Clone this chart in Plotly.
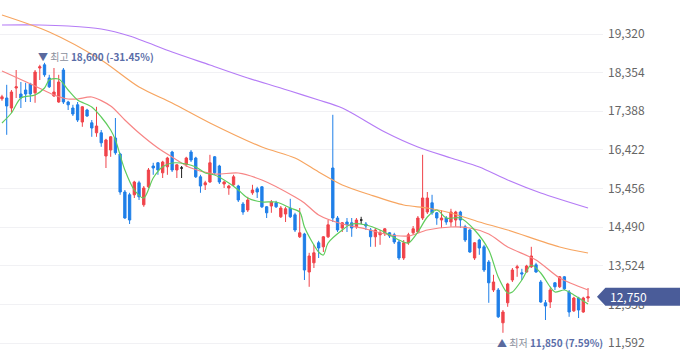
import plotly.graph_objects as go

# ---------------- data ----------------
opens = [17700, 17720, 17470, 17970, 17820, 17920, 18070, 17850, 18470, 18550,
         18220, 17770, 17620, 18420, 17620, 17470, 17550, 17120, 17420, 17100,
         16850, 16850, 16270, 16420, 16720, 16320, 15370, 15300, 15300, 15600,
         15050, 15500, 16020, 16100, 15850, 16000, 16370, 15920, 15970, 16050,
         16370, 16220, 15750, 15550, 15620, 16250, 16020, 15570, 15470, 15550,
         15520, 15070, 14920, 15350, 15450, 15500, 15000, 15020, 15100, 14750,
         14820, 14970, 14800, 14250, 14320, 13370, 13600, 14100, 14000, 14250,
         15970, 14720, 14470, 14620, 14600, 14500, 14670, 14570, 14420, 14250,
         14300, 14350, 14350, 14300, 14120, 13720, 14100, 14350, 14370, 14720,
         14870, 15100, 14850, 14670, 14720, 14620, 14670, 14870, 14500, 14420,
         13720, 14170, 14000, 13620, 12920, 12920, 12100, 12600, 13170, 13470,
         13350, 13370, 13500, 13550, 13120, 12600, 12620, 13100, 13000, 13250,
         12870, 12400, 12720, 12370, 12720]
highs = [17800, 18050, 17920, 18420, 18120, 18100, 18100, 18420, 18550, 18600,
         18300, 18470, 18300, 18470, 17650, 17550, 17620, 17520, 17450, 17170,
         17500, 16920, 16700, 16770, 17220, 16350, 15420, 15350, 15650, 15650,
         15520, 15970, 16100, 16120, 16150, 16250, 16400, 16070, 16020, 16250,
         16420, 16250, 15800, 15650, 16300, 16270, 16050, 15650, 15550, 15800,
         15550, 15120, 15250, 15550, 15500, 15520, 15020, 15170, 15150, 15020,
         15000, 15200, 14850, 14970, 14350, 13850, 14050, 14150, 14270, 14670,
         17300, 14770, 14620, 14720, 14720, 14720, 14750, 14620, 14470, 14470,
         14420, 14470, 14370, 14350, 14170, 14170, 14350, 14520, 14770, 16300,
         15370, 15300, 14870, 14920, 14770, 14950, 14900, 14900, 14550, 14450,
         14120, 14200, 14050, 13670, 13300, 12970, 12420, 13100, 13470, 13550,
         13450, 13550, 14000, 13600, 13170, 12670, 12970, 13120, 13270, 13270,
         12920, 12750, 12750, 12750, 12970]
lows = [17650, 16800, 17350, 17720, 17470, 17620, 17620, 17600, 18170, 18250,
        17970, 17750, 17600, 17570, 17420, 17270, 17120, 17000, 17250, 16750,
        16750, 16500, 15970, 16250, 16300, 15300, 14700, 14570, 15220, 15170,
        15000, 15470, 15800, 15800, 15720, 15800, 15870, 15720, 15720, 16000,
        16120, 15720, 15350, 15420, 15600, 15800, 15570, 15470, 15300, 15520,
        15120, 14800, 14870, 15300, 15220, 14970, 14720, 14850, 14970, 14720,
        14620, 14720, 14370, 14220, 13170, 13000, 13470, 13720, 13870, 14220,
        14620, 14370, 14370, 14370, 14250, 14450, 14570, 14420, 14000, 14000,
        14050, 14270, 14220, 14070, 13670, 13670, 14050, 14300, 14350, 14670,
        14820, 14800, 14550, 14470, 14550, 14500, 14500, 14470, 14120, 13850,
        13670, 13800, 13370, 12600, 12870, 12220, 11850, 12500, 13120, 13250,
        13170, 13350, 13470, 13350, 12600, 12170, 12470, 12920, 12970, 12920,
        12250, 12370, 12220, 12350, 12620]
closes = [17750, 17520, 17870, 18000, 17720, 17820, 17820, 18370, 18500, 18300,
          18000, 17870, 18120, 17620, 17550, 17320, 17170, 17500, 17270, 16970,
          17020, 16600, 16670, 16750, 16350, 15370, 14720, 14670, 15620, 15250,
          15470, 15920, 15970, 15920, 16120, 16220, 15920, 16050, 15970, 16220,
          16170, 15750, 15520, 15600, 16100, 15850, 15620, 15620, 15520, 15750,
          15170, 14870, 15170, 15420, 15370, 15000, 14850, 15120, 15000, 14970,
          14950, 14750, 14420, 14350, 13420, 13770, 13850, 13970, 14250, 14550,
          14720, 14420, 14600, 14550, 14470, 14670, 14670, 14520, 14250, 14420,
          14350, 14450, 14270, 14120, 13720, 14100, 14300, 14450, 14720, 15220,
          15220, 14850, 14720, 14720, 14620, 14870, 14870, 14670, 14170, 13870,
          14100, 13970, 13420, 13100, 13120, 12250, 12370, 13070, 13420, 13500,
          13320, 13520, 13770, 13370, 12620, 12520, 12920, 13000, 13250, 12950,
          12370, 12720, 12420, 12720, 12750]
x_idx = list(range(len(closes)))

# moving averages (index, value)
ma5_idx = [0, 2, 4, 7, 9, 10, 12, 14, 16, 19, 21, 23, 24, 26, 28, 30, 32, 34, 36, 39,
           41, 43, 45, 48, 50, 52, 55, 58, 61, 63, 64, 66, 67, 68, 69, 72, 74, 77, 80,
           82, 84, 86, 88, 90, 92, 94, 97, 100, 103, 105, 107, 108, 110, 112, 114,
           116, 117, 119, 121, 124]
ma5_val = [17095, 17345, 17720, 17795, 17970, 18170, 18195, 17920, 17670, 17495,
           17245, 16920, 16670, 15920, 15420, 15220, 15720, 16000, 16095, 16070,
           15995, 15845, 15795, 15595, 15420, 15220, 15120, 15120, 14970, 14870,
           14495, 14045, 13870, 13795, 14095, 14420, 14570, 14545, 14420, 14295,
           14170, 14095, 14370, 14745, 14920, 14720, 14720, 14420, 13920, 13245,
           12845, 12870, 13170, 13545, 13345, 12995, 12870, 12920, 12795, 12570]
ma20_idx = [0, 7, 11, 14, 16, 19, 23, 26, 29, 33, 36, 40, 45, 50, 55, 62, 64, 67, 72,
            77, 81, 86, 90, 95, 99, 103, 107, 113, 118, 124]
ma20_val = [18395, 18020, 17795, 17695, 17695, 17745, 17520, 17170, 16845, 16470,
            16245, 15970, 15820, 15845, 15670, 15245, 15095, 14795, 14570, 14445,
            14320, 14270, 14420, 14495, 14470, 14320, 13995, 13670, 13220, 12920]
ma60_idx = [0, 10, 21, 29, 36, 44, 55, 62, 67, 72, 78, 85, 90, 95, 101, 107, 118, 124]
ma60_val = [19795, 19370, 18670, 17995, 17595, 17095, 16495, 16220, 15870, 15545,
            15295, 15045, 14970, 14845, 14620, 14420, 13995, 13845]
ma120_idx = [0, 8, 14, 21, 27, 36, 44, 52, 61, 67, 72, 81, 88, 95, 101, 107, 114, 124]
ma120_val = [19545, 19545, 19520, 19445, 19270, 18870, 18545, 18220, 17895, 17670,
             17470, 16870, 16495, 16220, 15995, 15670, 15345, 14970]

y_ticks = [11592, 12558, 13524, 14490, 15456, 16422, 17388, 18354, 19320]
high_idx, high_val, high_pct = 9, 18600, "-31.45%"
low_idx, low_val, low_pct = 106, 11850, "7.59%"

# ---------------- styling ----------------
UP = "#f0434a"
DOWN = "#1f7fe8"
FLAT = "#222222"
FONT = "Noto Sans CJK KR, Noto Sans, sans-serif"

fig = go.Figure()

groups = [
    (UP, [i for i in x_idx if closes[i] > opens[i]]),
    (DOWN, [i for i in x_idx if closes[i] < opens[i]]),
    (FLAT, [i for i in x_idx if closes[i] == opens[i]]),
]
for color, x_sel in groups:
    fig.add_trace(go.Candlestick(
        x=x_sel,
        open=[opens[i] for i in x_sel],
        high=[highs[i] for i in x_sel],
        low=[lows[i] for i in x_sel],
        close=[closes[i] for i in x_sel],
        increasing=dict(line=dict(color=color, width=1), fillcolor=color),
        decreasing=dict(line=dict(color=color, width=1), fillcolor=color),
        whiskerwidth=0,
        showlegend=False,
        hoverinfo="skip",
    ))

for xs, ys, col in [
    (ma120_idx, ma120_val, "#b57cf6"),
    (ma60_idx, ma60_val, "#f7a560"),
    (ma20_idx, ma20_val, "#f78585"),
    (ma5_idx, ma5_val, "#5fcc5c"),
]:
    fig.add_trace(go.Scatter(
        x=xs, y=ys, mode="lines",
        line=dict(color=col, width=1.2, shape="spline", smoothing=0.8),
        showlegend=False, hoverinfo="skip",
    ))

fmt = lambda v: f"{v:,}"

fig.add_annotation(
    x=high_idx, y=high_val, xref="x", yref="y",
    text=(f"<span style='color:#5a6a9e'>▼</span> <span style='color:#8a8f9c'>최고</span> "
          f"<b><span style='color:#5a6da8'>{fmt(high_val)} ({high_pct})</span></b>"),
    showarrow=False, xanchor="left", yanchor="middle", xshift=-9, yshift=6,
    font=dict(family=FONT, size=10),
)
fig.add_annotation(
    x=low_idx, y=low_val, xref="x", yref="y",
    text=(f"<span style='color:#5a6a9e'>▲</span> <span style='color:#8a8f9c'>최저</span> "
          f"<b><span style='color:#5a6da8'>{fmt(low_val)} ({low_pct})</span></b>"),
    showarrow=False, xanchor="left", yanchor="middle", xshift=-8, yshift=-10,
    font=dict(family=FONT, size=10),
)

last = closes[-1]
fig.add_shape(
    type="path", xref="paper", yref="y",
    path=(f"M 0.990,{last} L 1.004,{last + 225} L 1.14,{last + 225} "
          f"L 1.14,{last - 225} L 1.004,{last - 225} Z"),
    fillcolor="#4a5c99", line=dict(width=0), layer="above",
)
fig.add_annotation(
    x=1.0, y=last, xref="paper", yref="y", text=fmt(last),
    showarrow=False, xanchor="left", yanchor="middle", xshift=5,
    font=dict(family=FONT, size=12, color="white"),
)

fig.update_layout(
    width=680, height=358, autosize=False,
    margin=dict(l=0, r=77, t=0, b=0),
    paper_bgcolor="white", plot_bgcolor="white",
    font=dict(family=FONT, size=12, color="#666666"),
    xaxis=dict(visible=False, range=[-0.42, 127.17], rangeslider=dict(visible=False),
               fixedrange=True),
    yaxis=dict(side="right", range=[11220, 20170], tickvals=y_ticks,
               ticktext=[fmt(v) for v in y_ticks], showgrid=True, gridcolor="#f1f1f4",
               gridwidth=1, zeroline=False, showline=False, ticks="",
               ticklabelstandoff=4, tickfont=dict(family=FONT, size=12, color="#666666")),
    boxgap=0.3,
)

fig.write_html("out.html", config={"displayModeBar": False},
               post_script="document.body.style.margin='0';")
